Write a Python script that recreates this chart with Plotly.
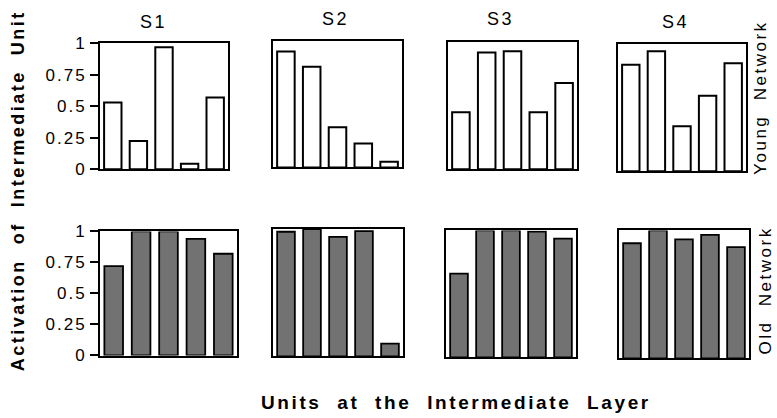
import plotly.graph_objects as go
from plotly.subplots import make_subplots

W, H = 777, 418

stimuli = ["S1", "S2", "S3", "S4"]
units = [1, 2, 3, 4, 5]
young_values = [
    [0.53, 0.225, 0.97, 0.045, 0.57],
    [0.92, 0.80, 0.32, 0.19, 0.045],
    [0.45, 0.92, 0.93, 0.45, 0.68],
    [0.84, 0.945, 0.355, 0.595, 0.85],
]
old_values = [
    [0.72, 1.0, 1.0, 0.94, 0.82],
    [0.975, 0.995, 0.935, 0.98, 0.10],
    [0.66, 1.0, 1.0, 0.99, 0.935],
    [0.90, 1.0, 0.93, 0.965, 0.87],
]
tick_vals = [0, 0.25, 0.5, 0.75, 1]
tick_text = ["0", "0.25", "0.5", "0.75", "1"]
row_labels = ["Young Network", "Old Network"]
y_title = "Activation of Intermediate Unit"
x_title = "Units at the Intermediate Layer"

# panel boxes in pixels: (left, right, top, bottom)
top_boxes = [(100, 228, 36, 168), (273, 402, 34, 166), (448, 577, 35, 168), (618, 746, 37, 170)]
bot_boxes = [(100, 237, 233, 363), (273, 403, 230, 364), (446, 576, 232, 365), (619, 749, 232, 366)]

FONT = "Liberation Sans, Arial, sans-serif"


def px(x):
    return x / W


def py(y):
    return 1 - y / H


def spaced(text, ls, gap=2):
    t = text.replace(" ", "\u00a0" * gap)
    return f'<span style="letter-spacing:{ls}px">{t}</span>'


fig = make_subplots(rows=2, cols=4)

for i in range(4):
    fig.add_trace(go.Bar(x=units, y=young_values[i], marker=dict(color="white", line=dict(color="black", width=2)),
                         showlegend=False, hoverinfo="skip"), row=1, col=i + 1)
    fig.add_trace(go.Bar(x=units, y=old_values[i], marker=dict(color="#727272", line=dict(color="black", width=1.8)),
                         showlegend=False, hoverinfo="skip"), row=2, col=i + 1)

for r, boxes in enumerate([top_boxes, bot_boxes]):
    for c, (l, rr, t, b) in enumerate(boxes):
        idx = r * 4 + c + 1
        xa = "xaxis" if idx == 1 else f"xaxis{idx}"
        ya = "yaxis" if idx == 1 else f"yaxis{idx}"
        fig.layout[xa].update(domain=[px(l), px(rr)], range=[0.5, 5.5], showticklabels=False, ticks="",
                              showgrid=False, zeroline=False, showline=True, linecolor="black", linewidth=2,
                              mirror=True, fixedrange=True)
        yopts = dict(domain=[py(b), py(t)], range=[0, 1], showgrid=False, zeroline=False, showline=True,
                     linecolor="black", linewidth=2, mirror=True, fixedrange=True)
        if c == 0:
            yopts.update(tickmode="array", tickvals=tick_vals,
                         ticktext=[spaced(s, 2) for s in tick_text], ticks="outside", ticklen=8,
                         tickwidth=1.5, tickcolor="black",
                         tickfont=dict(family=FONT, size=17, color="black"))
        else:
            yopts.update(showticklabels=False, ticks="")
        fig.layout[ya].update(**yopts)

# column titles
title_pos = [(153, 14), (335, 10), (500, 10), (675, 14)]
for s, (x, y) in zip(stimuli, title_pos):
    fig.add_annotation(x=px(x), y=py(y), xref="paper", yref="paper", text=spaced(s, 2.5), showarrow=False,
                       font=dict(family=FONT, size=18, color="black"), xanchor="center", yanchor="middle")

# row labels
fig.add_annotation(x=px(761), y=py(93), xref="paper", yref="paper", text=spaced(row_labels[0], 2.5),
                   showarrow=False, textangle=-90, font=dict(family=FONT, size=17, color="black"),
                   xanchor="center", yanchor="middle")
fig.add_annotation(x=px(766), y=py(295), xref="paper", yref="paper", text=spaced(row_labels[1], 2.5),
                   showarrow=False, textangle=-90, font=dict(family=FONT, size=17, color="black"),
                   xanchor="center", yanchor="middle")

# axis titles
fig.add_annotation(x=px(18), y=py(191), xref="paper", yref="paper", text="<b>" + spaced(y_title, 2.5) + "</b>",
                   showarrow=False, textangle=-90, font=dict(family=FONT, size=18, color="black"),
                   xanchor="center", yanchor="middle")
fig.add_annotation(x=px(456), y=py(412), xref="paper", yref="paper", text="<b>" + spaced(x_title, 2.6) + "</b>",
                   showarrow=False, font=dict(family=FONT, size=19, color="black"),
                   xanchor="center", yanchor="middle")

fig.update_layout(width=W, height=H, margin=dict(l=0, r=0, t=0, b=0), bargap=0.32,
                  paper_bgcolor="white", plot_bgcolor="white", showlegend=False, hovermode=False)

fig.write_html("out.html", config={"displayModeBar": False},
               post_script="document.body.style.margin='0';document.body.style.overflow='hidden';")
